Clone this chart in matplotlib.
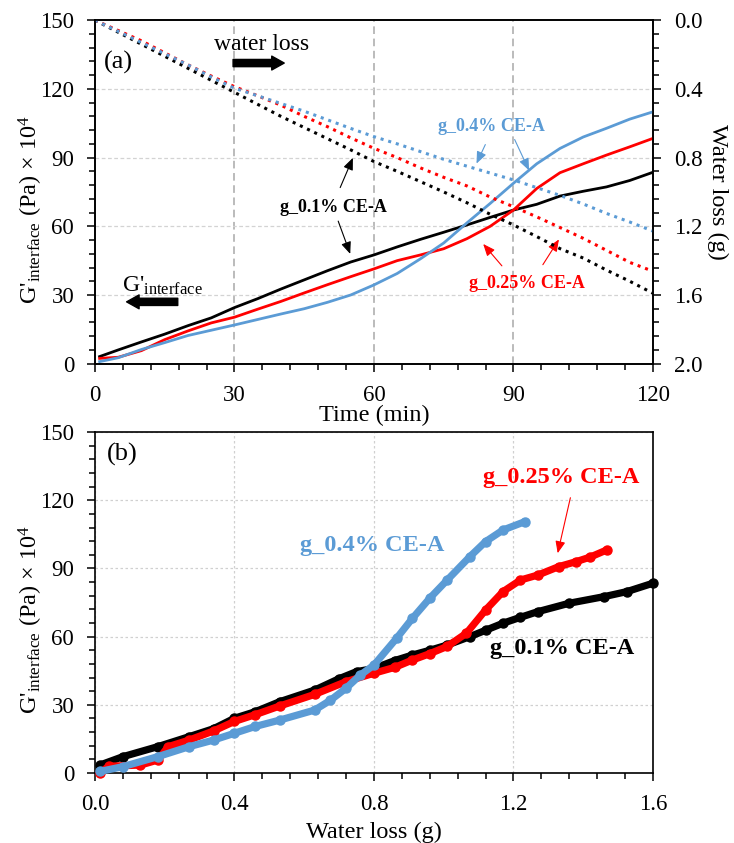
import matplotlib
matplotlib.use("Agg")
import matplotlib.pyplot as plt
from matplotlib.ticker import MultipleLocator, FormatStrFormatter

plt.rcParams['font.family'] = ['Liberation Serif', 'DejaVu Serif']
plt.rcParams['mathtext.fontset'] = 'custom'
plt.rcParams['mathtext.rm'] = 'Liberation Serif'
plt.rcParams['mathtext.it'] = 'Liberation Serif:italic'
plt.rcParams['mathtext.bf'] = 'Liberation Serif:bold'

# ---- panel (a): time series ----
time = [1, 5, 10, 15, 20, 25, 30, 35, 40, 45, 50, 55, 60,
        65, 70, 75, 80, 85, 90, 95, 100, 105, 110, 115, 120]

# G'interface (Pa x 1e4)
g_01 = [3.1, 6.0, 9.5, 12.9, 16.6, 20.0, 24.5, 28.4, 32.6, 36.6, 40.6, 44.4, 47.5,
        51.0, 54.3, 57.4, 60.6, 63.9, 67.1, 69.6, 73.2, 75.3, 77.2, 80.0, 83.6]
g_025 = [2.3, 2.8, 5.7, 10.5, 14.3, 17.8, 20.3, 23.8, 27.2, 30.9, 34.5, 38.0, 41.4,
         45.0, 47.5, 50.2, 54.6, 60.0, 67.1, 76.5, 83.4, 87.3, 91.1, 94.7, 98.4]
g_04 = [0.9, 2.6, 6.2, 9.2, 12.3, 14.6, 16.9, 19.3, 21.7, 24.0, 26.8, 30.0, 34.4,
        39.4, 45.8, 52.7, 61.5, 70.0, 78.8, 87.3, 94.0, 99.0, 102.8, 106.8, 110.0]

# water loss (g)
wl_01 = [0.014, 0.07, 0.14, 0.21, 0.28, 0.35, 0.42, 0.49, 0.56, 0.625, 0.69, 0.755, 0.823,
         0.88, 0.94, 1.0, 1.063, 1.13, 1.192, 1.26, 1.33, 1.385, 1.455, 1.52, 1.59]
wl_025 = [0.012, 0.06, 0.12, 0.19, 0.26, 0.325, 0.387, 0.44, 0.495, 0.56, 0.62, 0.685, 0.746,
          0.80, 0.86, 0.915, 0.965, 1.03, 1.086, 1.145, 1.207, 1.27, 1.34, 1.41, 1.462]
wl_04 = [0.013, 0.065, 0.13, 0.195, 0.26, 0.33, 0.396, 0.44, 0.485, 0.53, 0.58, 0.63, 0.678,
         0.72, 0.765, 0.81, 0.85, 0.89, 0.93, 0.975, 1.02, 1.07, 1.125, 1.175, 1.228]

# ---- panel (b): G' against water loss ----
b_wl_01 = [0.014, 0.08, 0.18, 0.27, 0.34, 0.40, 0.46, 0.53, 0.63, 0.70, 0.75, 0.80, 0.86,
           0.91, 0.96, 1.01, 1.075, 1.12, 1.17, 1.22, 1.27, 1.36, 1.46, 1.525, 1.60]
b_g_01 = [3.5, 7.2, 11.6, 16.0, 19.5, 24.1, 27.0, 31.4, 36.5, 41.5, 44.6, 46.0, 49.5,
          51.9, 54.0, 56.3, 60.0, 62.8, 65.9, 68.5, 71.0, 74.7, 77.6, 79.8, 83.5]
b_wl_025 = [0.014, 0.04, 0.13, 0.18, 0.21, 0.27, 0.34, 0.40, 0.46, 0.53, 0.63, 0.72, 0.80,
            0.86, 0.91, 0.96, 1.01, 1.065, 1.12, 1.17, 1.22, 1.27, 1.33, 1.38, 1.42, 1.467]
b_g_025 = [0.0, 3.0, 3.5, 5.7, 11.6, 14.5, 18.5, 22.7, 25.7, 29.5, 34.6, 40.2, 43.9,
           46.5, 49.7, 52.5, 55.7, 61.5, 71.7, 79.8, 84.9, 87.1, 90.8, 93.0, 95.0, 98.1]
b_wl_04 = [0.014, 0.08, 0.18, 0.27, 0.34, 0.40, 0.46, 0.53, 0.63, 0.675, 0.72, 0.76, 0.80,
           0.865, 0.91, 0.96, 1.01, 1.075, 1.12, 1.17, 1.233]
b_g_04 = [0.7, 2.8, 7.2, 11.6, 14.5, 17.5, 20.5, 23.3, 27.7, 32.0, 37.3, 43.0, 47.5,
          59.3, 68.0, 76.9, 84.9, 95.2, 101.8, 106.9, 110.6]

BLUE = '#5B9BD5'
RED = '#FF0000'
BLACK = '#000000'
TICK_FS = 16.5
LAB_FS = 17.5

ylab = r"G$'_{\mathrm{interface}}$ (Pa) $\times$ 10$^4$"

fig = plt.figure(figsize=(7.34, 8.43), dpi=100)
ax1 = fig.add_axes([0.1294, 0.5686, 0.7602, 0.4074])
ax2 = fig.add_axes([0.1294, 0.0830, 0.7602, 0.4045])


def style_axis(ax):
    for s in ax.spines.values():
        s.set_linewidth(1.2)
    ax.tick_params(which='both', direction='out', labelsize=TICK_FS, width=1.1,
                   top=False, pad=9)
    ax.tick_params(which='major', length=6)
    ax.tick_params(which='minor', length=4.5)


# ---- (a) ----
ax1.set_xlim(0, 120)
ax1.set_ylim(0, 150)
ax1.xaxis.set_major_locator(MultipleLocator(30))
ax1.xaxis.set_minor_locator(MultipleLocator(6))
ax1.yaxis.set_major_locator(MultipleLocator(30))
ax1.yaxis.set_minor_locator(MultipleLocator(6))
for v in [30, 60, 90]:
    ax1.axvline(v, color='#A8A8A8', lw=1.1, ls=(0, (5, 3)), zorder=0)
for v in [30, 60, 90, 120]:
    ax1.axhline(v, color='#D3D3D3', lw=0.9, ls=(0, (3, 2)), zorder=0)
style_axis(ax1)

ax1.plot(time, g_01, color=BLACK, lw=2, zorder=3)
ax1.plot(time, g_025, color=RED, lw=2, zorder=3)
ax1.plot(time, g_04, color=BLUE, lw=2, zorder=3)
ax1.set_xlabel('Time (min)', fontsize=LAB_FS)
ax1.xaxis.set_label_coords(0.5, -0.12)
ax1.set_ylabel(ylab, fontsize=LAB_FS)
ax1.yaxis.set_label_coords(-0.09, 0.45)

ax1r = ax1.twinx()
ax1r.set_ylim(2.0, 0.0)
ax1r.yaxis.set_major_locator(MultipleLocator(0.4))
ax1r.yaxis.set_minor_locator(MultipleLocator(0.08))
ax1r.yaxis.set_major_formatter(FormatStrFormatter('%.1f'))
style_axis(ax1r)
ax1r.plot([0] + time, [0] + wl_01, color=BLACK, lw=2.2, ls=(0, (1, 1.6)))
ax1r.plot([0] + time, [0] + wl_025, color=RED, lw=2.2, ls=(0, (1, 1.6)))
ax1r.plot([0] + time, [0] + wl_04, color=BLUE, lw=2.2, ls=(0, (1, 1.6)))
ax1r.set_ylabel('Water loss (g)', fontsize=LAB_FS, rotation=270)
ax1r.yaxis.set_label_coords(1.135, 0.5)

ax1.text(2.0, 131.7, '(a)', fontsize=19, va='center', ha='left')
ax1.text(35.8, 139.5, 'water loss', fontsize=17, va='center', ha='center')
big = dict(arrowstyle='simple,head_length=0.45,head_width=0.5,tail_width=0.26',
           fc='k', ec='k', mutation_scale=20)
ax1.annotate('', xy=(41.3, 131.3), xytext=(29.1, 131.3), arrowprops=big)
ax1.text(5.8, 34.0, r"G$'_{\mathrm{interface}}$", fontsize=17, va='center', ha='left')
ax1.annotate('', xy=(6.2, 27.0), xytext=(18.4, 27.0), arrowprops=big)

thin = dict(arrowstyle='-|>,head_length=0.6,head_width=0.25', lw=0.8, mutation_scale=12)
ax1.text(51.2, 68.4, 'g_0.1% CE-A', fontsize=13, fontweight='bold', color=BLACK,
         ha='center', va='center')
ax1.annotate('', xy=(55.7, 91.0), xytext=(52.5, 75.8), arrowprops=dict(thin, color=BLACK))
ax1.annotate('', xy=(55.1, 46.8), xytext=(52.1, 63.4), arrowprops=dict(thin, color=BLACK))

ax1.text(85.3, 103.8, 'g_0.4% CE-A', fontsize=13, fontweight='bold', color=BLUE,
         ha='center', va='center')
ax1.annotate('', xy=(81.8, 86.3), xytext=(84.2, 96.8), arrowprops=dict(thin, color=BLUE))
ax1.annotate('', xy=(93.6, 83.3), xytext=(90.0, 99.0), arrowprops=dict(thin, color=BLUE))

ax1.text(92.8, 35.2, 'g_0.25% CE-A', fontsize=13, fontweight='bold', color=RED,
         ha='center', va='center')
ax1.annotate('', xy=(83.1, 53.2), xytext=(87.9, 41.8), arrowprops=dict(thin, color=RED))
ax1.annotate('', xy=(100.1, 55.3), xytext=(96.0, 42.2), arrowprops=dict(thin, color=RED))

# ---- (b) ----
ax2.set_xlim(0, 1.6)
ax2.set_ylim(0, 150)
ax2.xaxis.set_major_locator(MultipleLocator(0.4))
ax2.xaxis.set_minor_locator(MultipleLocator(0.08))
ax2.xaxis.set_major_formatter(FormatStrFormatter('%.1f'))
ax2.yaxis.set_major_locator(MultipleLocator(30))
ax2.yaxis.set_minor_locator(MultipleLocator(6))
ax2.grid(True, which='major', color='#D0D0D0', lw=0.9, ls=(0, (2, 2)))
ax2.set_axisbelow(True)
style_axis(ax2)
ax2.tick_params(which='both', right=False)

for wl, g, c in [(b_wl_01, b_g_01, BLACK), (b_wl_025, b_g_025, RED), (b_wl_04, b_g_04, BLUE)]:
    ax2.plot(wl, g, color=c, lw=5.2, marker='o', ms=6.5, solid_capstyle='round',
             clip_on=False, zorder=3)

ax2.set_xlabel('Water loss (g)', fontsize=LAB_FS)
ax2.xaxis.set_label_coords(0.5, -0.142)
ax2.set_ylabel(ylab, fontsize=LAB_FS)
ax2.yaxis.set_label_coords(-0.09, 0.45)

ax2.text(0.035, 140.0, '(b)', fontsize=19, va='center', ha='left')
ax2.text(0.794, 100.3, 'g_0.4% CE-A', fontsize=17.5, fontweight='bold', color=BLUE,
         ha='center', va='center')
ax2.text(1.336, 129.8, 'g_0.25% CE-A', fontsize=17.5, fontweight='bold', color=RED,
         ha='center', va='center')
ax2.annotate('', xy=(1.325, 95.5), xytext=(1.365, 122.3), arrowprops=dict(thin, color=RED))
ax2.text(1.339, 55.0, 'g_0.1% CE-A', fontsize=17.5, fontweight='bold', color=BLACK,
         ha='center', va='center')

fig.savefig('out.png', dpi=100)
